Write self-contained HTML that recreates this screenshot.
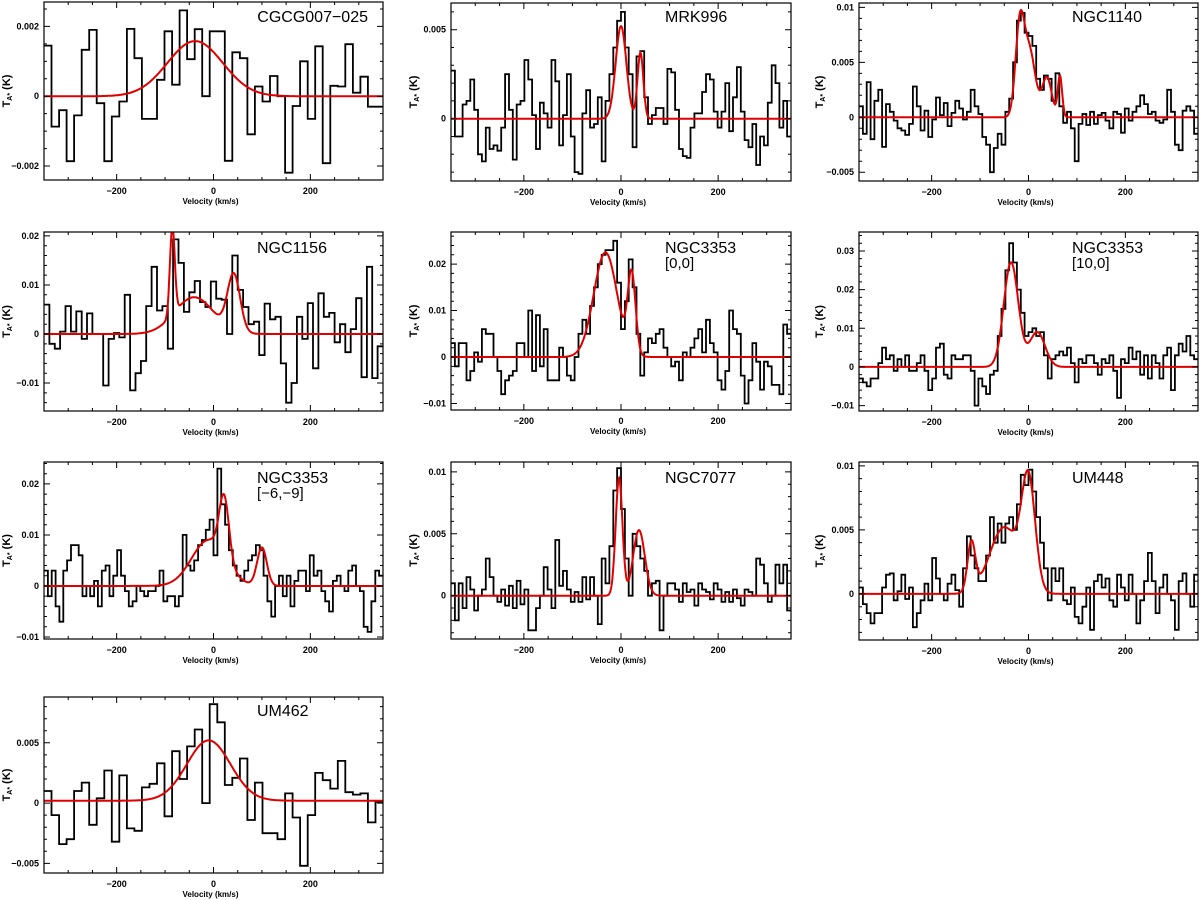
<!DOCTYPE html>
<html><head><meta charset="utf-8"><style>
html,body{margin:0;padding:0;background:#fff;}
svg{display:block;font-family:"Liberation Sans",sans-serif;}
</style></head><body>
<svg id="fig" width="1200" height="900" viewBox="0 0 1200 900"></svg>
<script>
// ---- data (values in units of 1e-3 K), velocity grid -350..350 km/s ----
const p1Vals=[1.45,-0.87,-0.4,-1.86,-0.55,1.33,1.9,-0.2,-1.86,-0.58,-0.15,1.93,1.09,-0.65,-0.65,0.47,1.86,0.33,2.46,1.06,1.92,0,1.86,1.86,-1.85,1.26,1.09,-1.09,0.28,-0.15,0.58,0,-2.19,-0.28,1.0,-0.65,1.43,-1.92,0.3,0.28,1.49,0.1,0.56,-0.3,-0.3];
const p1Fit=[[1.58,-38,57]];
const p2Vals=[2.7,-1,-1,0.8,1,2.2,0.5,-2,-2.4,-0.5,-1.7,-1.5,-1.8,-0.5,2.5,0.5,-2.3,0.8,1.0,3.3,2.2,0.2,-1.7,0.9,0.3,-0.5,3.3,2.1,-1.5,0.2,2.5,-1.0,-3.0,-3.1,0.3,1.6,-0.5,-0.3,1.2,-2.4,1.0,2.5,4.0,5.5,6.0,4.0,2.5,-1.6,3.5,3.8,1.2,-0.3,0.2,0.6,0.6,-0.3,2.8,2.6,0.5,-1.7,-2.1,-2.2,-0.5,0.3,0.3,1.5,2.5,2.2,0.4,-0.5,0.4,2.0,-0.7,1.2,2.9,0.4,-1.2,-1.6,-0.3,-2.6,-1.0,-1.5,0.9,3.0,2.0,-0.5,1.0,-1.0];
const p2Fit=[[5.2,0,11],[3.7,40,6]];
const p3Vals=[1,-1.5,3.2,-2,1.5,2.5,-2.7,1.2,0.5,-0.3,-1,-1.2,-1.6,-0.6,2.8,1.0,-1.2,0.6,-1.8,-0.2,1.8,0.2,1.3,-0.8,0.4,1.5,0.8,-0.2,0.5,2.5,1.0,0.3,-1.8,-2.5,-5.0,-2.8,-1.5,-2.5,0.5,1.7,5.0,8.8,9.5,7.7,7.4,6.5,3.5,2.5,3.8,3.5,1.5,4.0,1.0,-0.5,0.5,-1.0,-4.0,-0.6,0.3,-0.7,0.5,-0.6,0.2,0.4,-0.3,-1.0,0.5,0.3,-1.4,0.8,-0.3,0.5,1.0,2.0,1.2,0.3,0.5,-0.3,-0.5,-0.2,2.5,0.5,-2.5,-3.0,0.6,1.0,0.6,-1.5];
const p3Fit=[[8,-18,9],[6,2,12],[3.6,38,10],[3.7,65,4.5]];
const p4Vals=[6,-2,-3,0.5,5.7,0.5,4.6,-1,4.2,0,0,-10.5,-1,0.2,-0.7,8,-11.5,-8,-5.5,5.7,13.7,4.8,5.7,-3,19.3,14.5,4.5,8.5,10.8,6.5,5.5,10.7,7.2,7,0,16,9,5.5,2,2.5,-4.3,6.2,3,3.5,-6,-14,-10,3.5,-1,6.3,-7,8.3,3.5,4.3,-1.7,2,-3.7,1,7.3,-8.8,13.7,-9,-2.5];
const p4Fit=[[18,-85,5],[7.5,-40,40],[11.5,42,13]];
const p5Vals=[3,-2,3,3,-5,-3,1,-1,6,5,5,0,-3,-8,-5,-4,-3,3,3,0,10,-3,9,-2,6,-5,-5,-5,2,0,-4,-5,0,5,8,5,11,15,20,22,23,23,25,16,6,12,21,15,5,-4,1,4,3,5,6,2,0,-2,-1,-5,1,0,2,4,6,1,8,3,1,-5,-7,-3,10,6,5,-4,-10,-5,3,-1,-7,-1,-2,-6,-6,-8,7,5];
const p5Fit=[[22.5,-32,24],[17,22,8]];
const p6Vals=[-3,-4,-5,-3,-3,1,5,2,3,-1,2,0,3,-1,-1,1,3,-1,-6,-3,5,6,-2,-3,3,2,2,3,3,-1,-10,-3,-5,-7,-2,-1,8,15,25,32,27,20,14,8,9,10,8,9,3,-3,2,3,4,3,5,1,-4,2,1,3,3,1,-2,2,1,3,-1,-8,2,1,5,2,4,-2,3,-3,3,1,-3,3,5,-6,3,6,4,8,3,2];
const p6Fit=[[27,-36,15],[9,18,16]];
const p7Vals=[3,-2,3,-4,-7,3,5,8,8,6,-2,0,-2,1,-4,3,4,-2,2,7,2,-1,-4,-3,0,-1,-2,-1,-1,0,3,-3,-2,-2,-4,-2,10,4,3,5,8,9,11,13,6,23,16,12,7,4,2,1,3,5,6,8,7,2,-3,-6,0,2,-2,2,-4,1,3,3,-1,6,2,3,-1,-3,-5,1,2,0,-1,3,4,0,-1,-8,-9,-3,3,2];
const p7Fit=[[9,-10,35],[12,22,10],[7.5,100,10]];
const p8Vals=[1,-2,1,-1,1.5,0.5,-1.2,0,0.5,3,1.5,0,-0.5,0.5,-0.8,0.8,-1,1.2,-0.7,0.5,-2.8,-2.8,-1,0,2.3,0.5,-1,4.5,0.8,2,0.5,-0.5,0.3,-0.5,1.5,-0.3,1.5,0,-2.3,3,1,4,8.5,10.3,7,3,0,5,4,3,2,0,1,1.2,-2.8,0,1,1,0.5,-0.5,1,0.3,0.5,-0.8,1,0.5,0.3,-0.3,1,0.5,-0.5,0.3,-0.5,0.5,-0.2,-0.8,0.5,0.3,0,3,2.5,1,-0.5,0,2.5,1,2.5,-1.2];
const p8Fit=[[9.5,-4,7],[5.3,37,12]];
const p9Vals=[0.5,-0.8,-1.5,-2.3,-1.5,-1.5,0.5,1.5,1.6,-0.5,0.2,1.5,-0.4,0.5,-2.6,-1.5,-0.5,0.8,-0.5,2.8,1.2,0,-0.5,0.8,1.5,0.3,-1.0,2,4.5,3,2,1,1,3,6,4,5.5,4,5.5,6,5,7,9.3,8.5,9.7,8,6,4,2,-0.5,2,1,2,-0.5,-0.8,0.5,-1.8,-2.3,-1,0.5,-2.8,1,1.5,0.5,1.2,-0.5,-1,1.5,0.5,-0.5,1.5,0,-2.3,-0.5,1,3.2,1,-1.5,0.5,1.5,0,-0.5,-2.8,1,1.6,0,-1,1.5];
const p9Fit=[[3.8,-118,8],[5.2,-50,30],[8.3,0,14]];
const p10Vals=[1.0,-1.0,-3.4,-3.0,1.0,1.7,-1.8,0.4,2.7,-3.2,2.3,-2.1,-2.3,1.3,1.6,3.3,-1.1,4.3,2.0,4.7,6.1,0,8.2,6.7,1.5,2.1,3.7,-1.4,1.7,-2.5,-2.5,-3.0,0.8,-1.2,-5.2,-1.0,2.5,1.9,1.2,3.5,0.9,0.7,0.8,-1.6,0.1];
const p10Fit=[[5,-10,45]];
const panelNames=["CGCG007\u2212025","MRK996","NGC1140","NGC1156","NGC3353","NGC3353","NGC3353","NGC7077","UM448","UM462"];
const panelSub=["","","","","[0,0]","[10,0]","[\u22126,\u22129]","","",""];
const xTicks=[-200,0,200];

const cols=[[44,383],[451,791],[859,1198]];
const panels=[
 {c:0,t:2,b:180,ymin:-0.0024,ymax:0.0027,yt:[-0.002,0,0.002],ym:0.0005,vals:p1Vals,fit:p1Fit,base:0,tx:368,anchor:"end",ty:22},
 {c:1,t:3,b:181,ymin:-0.0035,ymax:0.0065,yt:[0,0.005],ym:0.001,vals:p2Vals,fit:p2Fit,base:0,tx:665,ty:22},
 {c:2,t:3,b:181,ymin:-0.0058,ymax:0.0104,yt:[-0.005,0,0.005,0.01],ym:0.001,vals:p3Vals,fit:p3Fit,base:0,tx:1072,ty:22},
 {c:0,t:232,b:411,ymin:-0.0157,ymax:0.0208,yt:[-0.01,0,0.01,0.02],ym:0.002,vals:p4Vals,fit:p4Fit,base:0,tx:257,ty:253},
 {c:1,t:232,b:410,ymin:-0.0114,ymax:0.0269,yt:[-0.01,0,0.01,0.02],ym:0.002,vals:p5Vals,fit:p5Fit,base:0,tx:665,ty:253},
 {c:2,t:232,b:411,ymin:-0.0114,ymax:0.0349,yt:[-0.01,0,0.01,0.02,0.03],ym:0.002,vals:p6Vals,fit:p6Fit,base:0,tx:1072,ty:253},
 {c:0,t:462,b:639,ymin:-0.0104,ymax:0.0243,yt:[-0.01,0,0.01,0.02],ym:0.002,vals:p7Vals,fit:p7Fit,base:0,tx:257,ty:483},
 {c:1,t:462,b:639,ymin:-0.0035,ymax:0.0108,yt:[0,0.005,0.01],ym:0.001,vals:p8Vals,fit:p8Fit,base:0,tx:665,ty:483},
 {c:2,t:462,b:640,ymin:-0.0036,ymax:0.0103,yt:[0,0.005,0.01],ym:0.001,vals:p9Vals,fit:p9Fit,base:0,tx:1072,ty:483},
 {c:0,t:697,b:873,ymin:-0.0058,ymax:0.0088,yt:[-0.005,0,0.005],ym:0.001,vals:p10Vals,fit:p10Fit,base:0.0002,tx:257,ty:716}
];
const NS="http://www.w3.org/2000/svg";
const svg=document.getElementById("fig");
function mk(tag,attrs,parent){const e=document.createElementNS(NS,tag);for(const k in attrs)e.setAttribute(k,attrs[k]);(parent||svg).appendChild(e);return e;}
function fmt(v){if(v===0)return "0";let s=String(+v.toFixed(4));return s.replace("-","\u2212");}
panels.forEach((p,i)=>{
 const L=cols[p.c][0],R=cols[p.c][1],T=p.t,B=p.b;
 const xs=v=>L+(v+350)/700*(R-L);
 const ys=y=>B-(y-p.ymin)/(p.ymax-p.ymin)*(B-T);
 const g=mk("g",{});
 
 
 const cp=mk("clipPath",{id:"cp"+i},g);mk("rect",{x:L,y:T,width:R-L,height:B-T},cp);
 const n=p.vals.length,dv=700/n;let d="";
 p.vals.forEach((v,k)=>{const x0=xs(-350+k*dv),x1=xs(-350+(k+1)*dv),y=ys(v*1e-3);d+=(k===0?"M":"L")+x0.toFixed(1)+","+y.toFixed(1)+"L"+x1.toFixed(1)+","+y.toFixed(1);});
 const h=mk("path",{d:d,fill:"none",stroke:"#000","stroke-width":1.8,"clip-path":"url(#cp"+i+")"},g);
 
 
 let fd="";for(let v=-350;v<=350;v+=1){let s=p.base;p.fit.forEach(c=>{s+=c[0]*1e-3*Math.exp(-((v-c[1])**2)/(2*c[2]*c[2]));});fd+=(v===-350?"M":"L")+xs(v).toFixed(1)+","+ys(s).toFixed(1);}
 const f=mk("path",{d:fd,fill:"none",stroke:"#e00000","stroke-width":2,"clip-path":"url(#cp"+i+")"},g);
 
 
 const fr=mk("rect",{x:L,y:T,width:R-L,height:B-T,fill:"none",stroke:"#000","stroke-width":1.2},g);
 
 
 let td="";
 for(let v=-300;v<=300;v+=50){const x=xs(v),len=(v%200===0)?6:3;td+=`M${x},${B}v${-len}M${x},${T}v${len}`;}
 for(let y=Math.ceil(p.ymin/p.ym)*p.ym;y<=p.ymax;y+=p.ym){const yy=ys(y);const maj=p.yt.some(t=>Math.abs(t-y)<p.ym/10);const len=maj?6:3;td+=`M${L},${yy}h${len}M${R},${yy}h${-len}`;}
 mk("path",{d:td,stroke:"#000","stroke-width":1,fill:"none"},g);
 xTicks.forEach(v=>{const t=mk("text",{x:xs(v),y:B+14,"font-size":9,"font-weight":"bold","text-anchor":"middle"},g);t.textContent=fmt(v);
  
  });
 p.yt.forEach(v=>{const t=mk("text",{x:L-5,y:ys(v)+3,"font-size":9,"font-weight":"bold","text-anchor":"end"},g);t.textContent=fmt(v);
  
  });
 const xt=mk("text",{x:(L+R)/2-3,y:B+24,"font-size":8,"font-weight":"bold","text-anchor":"middle"},g);xt.textContent="Velocity (km/s)";
 
 
 const yx=L-(p.c===0?34:(p.c===1?34:36)),yy=(T+B)/2;
 const yt=mk("text",{x:yx,y:yy,"font-size":11,"font-weight":"bold","text-anchor":"middle",transform:`rotate(-90 ${yx} ${yy})`},g);
 yt.innerHTML='T<tspan font-size="7" dy="2">A*</tspan><tspan dy="-2"> (K)</tspan>';
 
 
 const tt=mk("text",{x:p.tx,y:p.ty,"font-size":16,"text-anchor":p.anchor||"start"},g);tt.textContent=panelNames[i];
 
 
 if(panelSub[i]){const st=mk("text",{x:p.tx,y:p.ty+15,"font-size":15},g);st.textContent=panelSub[i];
  
  }
});
</script>
</body></html>
